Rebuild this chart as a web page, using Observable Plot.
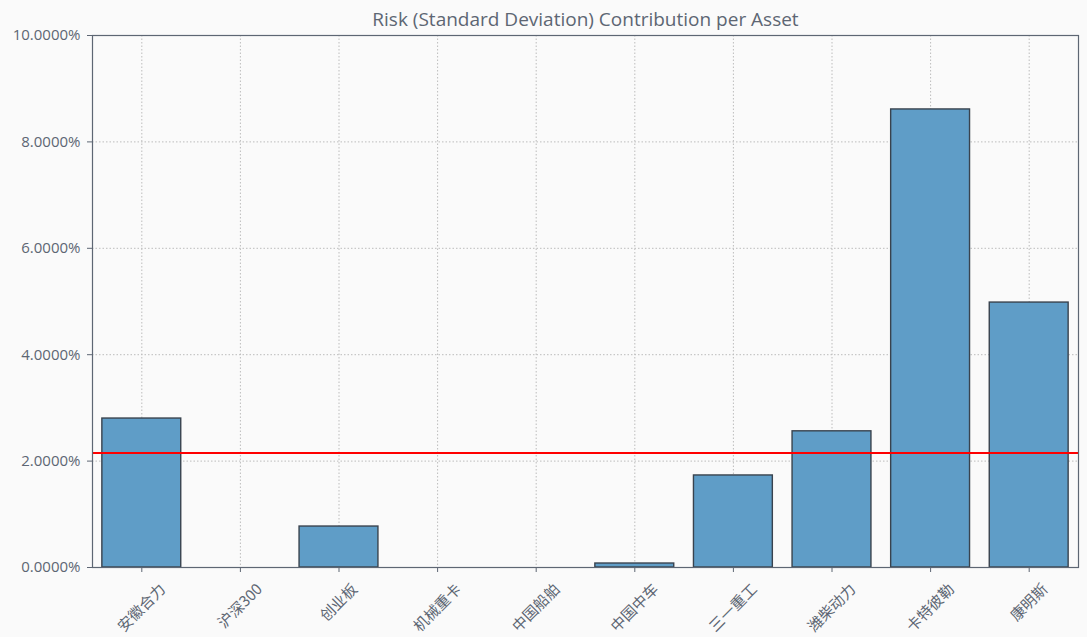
<!DOCTYPE html>
<html>
<head>
<meta charset="utf-8">
<script src="https://cdn.jsdelivr.net/npm/d3@7"></script>
<script src="https://cdn.jsdelivr.net/npm/@observablehq/plot@0.6"></script>
<style>
  html, body { margin: 0; padding: 0; background: #fafafa; }
  #chart svg { display: block; background: #fafafa; }
</style>
</head>
<body>
<div id="chart"></div>
<script>
const title = "Risk (Standard Deviation) Contribution per Asset";
const assets = ["安徽合力", "沪深300", "创业板", "机械重卡", "中国船舶", "中国中车", "三一重工", "潍柴动力", "卡特彼勒", "康明斯"];
const contributions = [0.0280, 0.0, 0.0077, 0.0, 0.0, 0.00075, 0.0173, 0.0256, 0.0861, 0.0498];
const equalLine = [0.0215];
const yTicks = [0, 0.02, 0.04, 0.06, 0.08, 0.10];

const data = assets.map((a, i) => ({asset: a, value: contributions[i]}));
const textColor = "#5d6673";
const axisColor = "#5d6673";
const gridColor = "#bcbcbc";
const labelFont = "'Noto Sans CJK SC', sans-serif";
const labelSize = 15;

// measure label widths so each rotated label's box is centred under its tick
const ctx = document.createElement("canvas").getContext("2d");
ctx.font = `${labelSize}px 'Noto Sans CJK SC'`;
const c45 = Math.SQRT1_2;

const labelMarks = assets.map(a => {
  const L = ctx.measureText(a).width;
  return Plot.text([a], {
    x: d => d, frameAnchor: "bottom",
    text: d => d, rotate: -45, textAnchor: "end", lineAnchor: "middle",
    dx: L * c45 / 2, dy: 14 + labelSize * c45 / 2,
    fontSize: labelSize, fontFamily: labelFont, fill: textColor
  });
});

const chart = Plot.plot({
  width: 1087,
  height: 637,
  marginLeft: 92,
  marginRight: 9,
  marginTop: 35,
  marginBottom: 70,
  style: {background: "#fafafa", fontFamily: "'Open Sans', 'Noto Sans CJK SC', sans-serif", fontSize: "15px", color: textColor},
  x: {domain: assets, paddingInner: 0.2, paddingOuter: 0.1, round: false, label: null},
  y: {domain: [0, 0.10], label: null},
  marks: [
    Plot.gridX(assets, {stroke: gridColor, strokeOpacity: 1, strokeDasharray: "1.5,2"}),
    Plot.gridY(yTicks, {stroke: gridColor, strokeOpacity: 1, strokeDasharray: "1.5,2"}),
    Plot.barY(data, {x: "asset", y: "value", fill: "#5f9dc7", stroke: "#39434e", strokeWidth: 1.4}),
    Plot.ruleY(equalLine, {stroke: "#ff0000", strokeWidth: 2}),
    Plot.frame({stroke: axisColor, strokeWidth: 1.2}),
    Plot.axisY(yTicks, {tickFormat: d3.format(".4%"), tickSize: 5, stroke: axisColor, fill: textColor, fontSize: 15, tickPadding: 7}),
    Plot.axisX(assets, {tickSize: 5, stroke: axisColor, text: null}),
    ...labelMarks,
    Plot.text([title], {frameAnchor: "top", lineAnchor: "middle", dy: -16, fontSize: 19, fill: textColor, fontFamily: "'Open Sans', sans-serif"})
  ]
});
document.getElementById("chart").appendChild(chart);
</script>
</body>
</html>
